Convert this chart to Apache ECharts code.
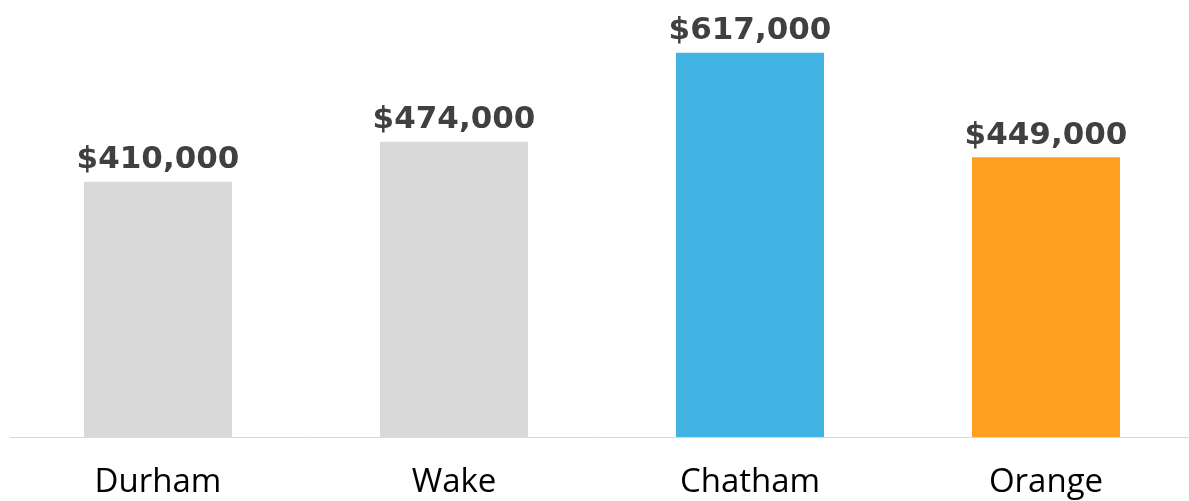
<!DOCTYPE html>
<html>
<head>
<meta charset="utf-8">
<script src="https://cdn.jsdelivr.net/npm/echarts@6/dist/echarts.min.js"></script>
<style>
  html, body { margin: 0; padding: 0; background: #fff; }
  #chart { width: 1189px; height: 501px; }
</style>
</head>
<body>
<div id="chart"></div>
<script>
var counties = ['Durham', 'Wake', 'Chatham', 'Orange'];
var prices = [410000, 474000, 617000, 449000];
var barColors = ['#d9d9d9', '#d9d9d9', '#41b4e3', '#ff9f1f'];

function money(v) {
    return '$' + v.toString().replace(/\B(?=(\d{3})+(?!\d))/g, ',');
}

var myChart = echarts.init(document.getElementById('chart'));
var option = {
    animation: false,
    grid: {
        left: 10,
        width: 1184,
        top: 1,
        bottom: 64,
        containLabel: false,
        outerBoundsMode: 'none'
    },
    xAxis: {
        type: 'category',
        data: counties,
        axisLine: { lineStyle: { color: '#d9d9d9', width: 1 } },
        axisTick: { show: false },
        axisLabel: {
            color: '#000',
            fontFamily: 'Open Sans',
            fontSize: 33,
            margin: 29
        }
    },
    yAxis: {
        type: 'value',
        min: 0,
        max: 700000,
        show: false,
        splitLine: { show: false }
    },
    series: [{
        type: 'bar',
        barWidth: 148,
        data: prices.map(function (v, i) {
            return { value: v, itemStyle: { color: barColors[i] } };
        }),
        label: {
            show: true,
            position: 'top',
            distance: 6,
            color: '#404040',
            fontFamily: 'DejaVu Sans',
            fontWeight: 'bold',
            fontSize: 31,
            formatter: function (p) { return money(p.value); }
        }
    }]
};
myChart.setOption(option);
</script>
</body>
</html>
